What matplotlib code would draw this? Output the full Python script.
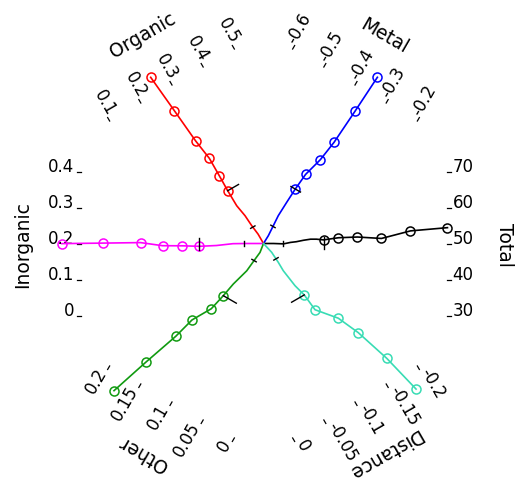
import numpy as np
import matplotlib.pyplot as plt


# spokes of the star, direction in degrees (counter-clockwise from east)
names = ['Total', 'Metal', 'Organic', 'Inorganic', 'Other', 'Distance']
angles = [0, 60, 120, 180, 240, 300]

# cross scale drawn on each spoke, the middle tick sits on the spoke itself
scale_ticks = [
    [30, 40, 50, 60, 70],
    [-0.6, -0.5, -0.4, -0.3, -0.2],
    [0.1, 0.2, 0.3, 0.4, 0.5],
    [0, 0.1, 0.2, 0.3, 0.4],
    [0, 0.05, 0.1, 0.15, 0.2],
    [-0.2, -0.15, -0.1, -0.05, 0],
]
scale_labels = [
    ['30', '40', '50', '60', '70'],
    ['-0.6', '-0.5', '-0.4', '-0.3', '-0.2'],
    ['0.1', '0.2', '0.3', '0.4', '0.5'],
    ['0', '0.1', '0.2', '0.3', '0.4'],
    ['0', '0.05', '0.1', '0.15', '0.2'],
    ['-0.2', '-0.15', '-0.1', '-0.05', '0'],
]

# traces: distance along the spoke (1 = position of the scale) and value
total_r = [0, 0.054, 0.108, 0.145, 0.177, 0.215, 0.253, 0.285, 0.323, 0.403, 0.505, 0.634, 0.790, 0.989]
total_v = [50, 50.0, 49.9, 50.3, 50.5, 50.9, 51.2, 51.2, 51.0, 51.6, 51.8, 51.4, 53.5, 54.4]

metal_r = [0, 0.049, 0.109, 0.169, 0.254, 0.339, 0.435, 0.543, 0.661, 0.861, 1.080]
metal_v = [-0.4, -0.3992, -0.4011, -0.4031, -0.4014, -0.3992, -0.3947, -0.3797, -0.3708, -0.3636, -0.3569]

organic_r = [0, 0.058, 0.115, 0.179, 0.248, 0.342, 0.434, 0.542, 0.660, 0.858, 1.077]
organic_v = [0.3, 0.3, 0.2964, 0.2942, 0.288, 0.2872, 0.2878, 0.288, 0.2792, 0.27, 0.2594]

inorganic_r = [0, 0.094, 0.164, 0.253, 0.345, 0.437, 0.543, 0.661, 0.861, 1.085]
inorganic_v = [0.2, 0.2, 0.1995, 0.1944, 0.1922, 0.1936, 0.1939, 0.2025, 0.2011, 0.1997]

other_r = [0, 0.051, 0.105, 0.172, 0.270, 0.351, 0.444, 0.548, 0.668, 0.870, 1.087]
other_v = [0.1, 0.098, 0.0995, 0.1012, 0.1082, 0.1121, 0.1175, 0.1329, 0.1411, 0.1592, 0.1776]

distance_r = [0, 0.063, 0.127, 0.180, 0.281, 0.349, 0.447, 0.549, 0.670, 0.866, 1.088]
distance_v = [-0.1, -0.1037, -0.1047, -0.1049, -0.1086, -0.1133, -0.116, -0.1381, -0.1521, -0.1685, -0.1824]

traces_r = [total_r, metal_r, organic_r, inorganic_r, other_r, distance_r]
traces_v = [total_v, metal_v, organic_v, inorganic_v, other_v, distance_v]
n_marked = 6          # the outer points carry a circle
small_tick_r = 0.105  # short reference tick on every trace

# styling / geometry
colors = ['black', 'blue', 'red', 'magenta', '#109a10', '#38dcb4']
value_dir = [90, -30, 30, 90, 150, 210]   # direction in which values grow
long_tick_span = [(-9.3, 3.4), (-5, 6), (0, 12.5), (-3.7, 8.7), (-15, 0), (0, 14.6)]
CX, CY = 263.5, 236.5
R_SCALE = 186.0
STEP_PX = 36.0
R_TITLE = 243.0


def unit(deg):
    a = np.radians(deg)
    return np.cos(a), np.sin(a)


def to_xy(k, r, v, extra=0.0):
    ticks = scale_ticks[k]
    step = ticks[1] - ticks[0]
    p = (np.asarray(v, dtype=float) - ticks[2]) / step * STEP_PX + extra
    ux, uy = unit(angles[k])
    nx, ny = unit(value_dir[k])
    rr = np.asarray(r, dtype=float) * R_SCALE
    return CX + rr * ux + p * nx, CY + rr * uy + p * ny


def draw_scale(ax, k):
    ang = angles[k]
    ux, uy = unit(ang)
    right_side = ux > 0.1
    rot = ang if right_side else ang - 180
    if rot > 180:
        rot -= 360
    for val, lab in zip(scale_ticks[k], scale_labels[k]):
        x0, y0 = to_xy(k, 183 / R_SCALE, val)
        x1, y1 = to_xy(k, 187 / R_SCALE, val)
        ax.plot([x0, x1], [y0, y1], color='black', lw=0.9)
        xt, yt = to_xy(k, 189 / R_SCALE, val)
        ax.text(xt, yt, lab, rotation=rot, rotation_mode='anchor',
                ha='left' if right_side else 'right', va='baseline',
                fontsize=12, color='black')
    tx, ty = CX + R_TITLE * ux, CY + R_TITLE * uy
    ax.text(tx, ty, names[k], rotation=ang - 90, rotation_mode='anchor',
            ha='center', va='center_baseline', fontsize=13.5, color='black')


def draw_trace(ax, k):
    r = traces_r[k]
    v = traces_v[k]
    x, y = to_xy(k, r, v)
    ax.plot(x, y, color=colors[k], lw=1.2, zorder=3)
    ax.plot(x[-n_marked:], y[-n_marked:], linestyle='none', marker='o', ms=6.5,
            mfc='none', mec=colors[k], mew=1.1, zorder=4)

    # short tick near the centre
    vs = np.interp(small_tick_r, r, v)
    xa, ya = to_xy(k, small_tick_r, vs, -2.5)
    xb, yb = to_xy(k, small_tick_r, vs, 2.5)
    ax.plot([xa, xb], [ya, yb], color='black', lw=1.0, zorder=5)

    # longer tick at the first marked point
    lo, hi = long_tick_span[k]
    rl, vl = r[-n_marked], v[-n_marked]
    xa, ya = to_xy(k, rl, vl, lo)
    xb, yb = to_xy(k, rl, vl, hi)
    ax.plot([xa, xb], [ya, yb], color='black', lw=1.0, zorder=5)


def create_plot():
    plt.rcParams['font.family'] = ['DejaVu Sans']
    fig = plt.figure(figsize=(5.21, 4.81), dpi=100)
    ax = fig.add_axes([0, 0, 1, 1])
    ax.set_xlim(0, 521)
    ax.set_ylim(0, 481)
    ax.axis('off')

    for k in range(len(names)):
        draw_scale(ax, k)
    for k in range(len(names)):
        draw_trace(ax, k)

    fig.savefig('out.png', dpi=100)


if __name__ == '__main__':
    create_plot()
